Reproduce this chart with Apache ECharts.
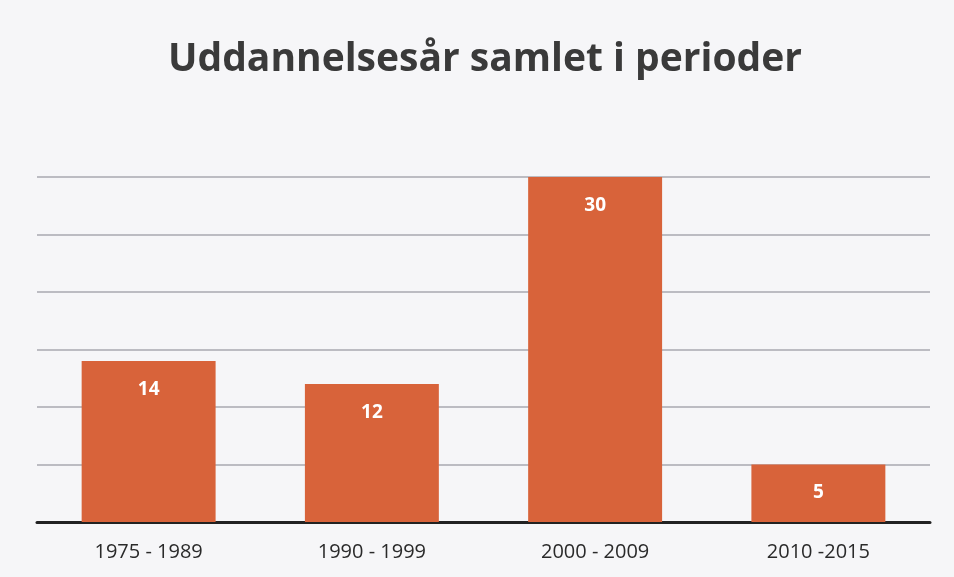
<!DOCTYPE html>
<html>
<head>
<meta charset="utf-8">
<script src="https://cdn.jsdelivr.net/npm/echarts@6/dist/echarts.min.js"></script>
<style>
  html, body { margin: 0; padding: 0; background: #f6f6f8; }
  #chart { width: 954px; height: 577px; }
</style>
</head>
<body>
<div id="chart"></div>
<script>
// data
var periods = ['1975 - 1989', '1990 - 1999', '2000 - 2009', '2010 -2015'];
var years = [14, 12, 30, 5];

var chrt = echarts.init(document.getElementById('chart'));
chrt.setOption({
    backgroundColor: '#f6f6f8',
    title: {
        text: 'Uddannelsesår samlet i perioder',
        left: 163,
        top: 35,
        textStyle: {
            fontFamily: 'Open Sans',
            fontWeight: 'bold',
            fontSize: 39,
            color: '#3a3a3a'
        }
    },
    grid: { left: 37, right: 24, top: 177, bottom: 55 },
    xAxis: {
        type: 'category',
        data: periods,
        axisLine: { lineStyle: { color: '#222', width: 3 } },
        axisTick: { show: false },
        axisLabel: {
            margin: 20,
            fontFamily: 'Open Sans',
            fontSize: 20,
            color: '#2a2a2a'
        }
    },
    yAxis: {
        type: 'value',
        min: 0,
        max: 30,
        interval: 5,
        axisLabel: { show: false },
        axisLine: { show: false },
        axisTick: { show: false },
        splitLine: { lineStyle: { color: '#a8a8b0', width: 1.5 } }
    },
    series: [{
        type: 'bar',
        data: years,
        barWidth: '60%',
        itemStyle: { color: '#d8633a' },
        label: {
            show: true,
            position: 'insideTop',
            distance: 19,
            fontFamily: 'Open Sans',
            fontWeight: 'bold',
            fontSize: 19,
            color: '#fff'
        }
    }]
});
</script>
</body>
</html>
